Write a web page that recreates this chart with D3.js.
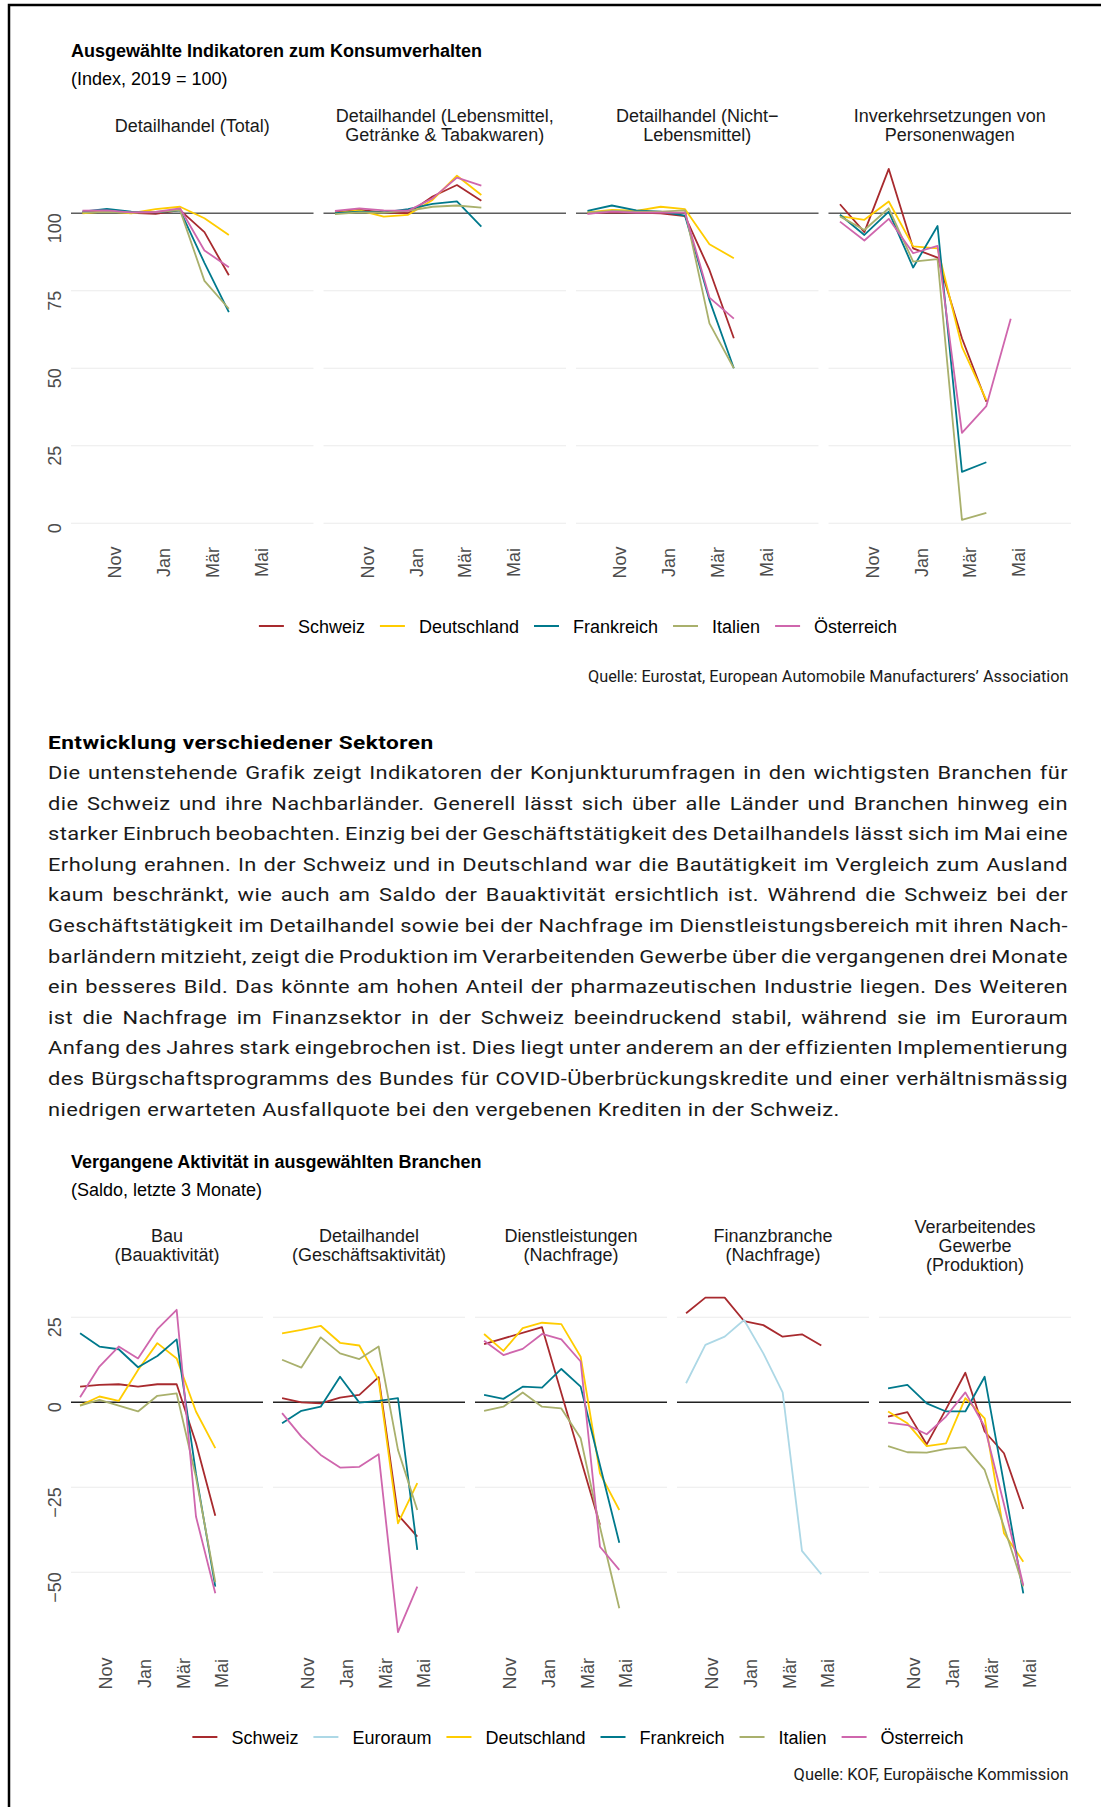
<!DOCTYPE html>
<html><head><meta charset="utf-8">
<script src="https://cdn.jsdelivr.net/npm/d3@7"></script>
<style>body{margin:0;background:#fff;} svg{display:block;}</style>
</head><body>
<svg id="c" width="1101" height="1807"></svg>
<script>
// ---------- DATA ----------
const monthNames = ["Okt","Nov","Dez","Jan","Feb","Mär","Apr","Mai"]; // Okt 2019 .. Mai 2020
const monthIndex = [0,1,2,3,4,5,6,7];
const tickMonths = [1,3,5,7];
const tickLabels = ["Nov","Jan","Mär","Mai"];

const countryNames = ["Schweiz","Euroraum","Deutschland","Frankreich","Italien","Österreich"];
const countryColors = ["#a82a2e","#add8e6","#ffcc00","#00798c","#a9b06c","#cf66ad"];

// Chart 1: Index, 2019 = 100
const topTitles = [["Detailhandel (Total)"],["Detailhandel (Lebensmittel,","Getränke & Tabakwaren)"],["Detailhandel (Nicht\u2212","Lebensmittel)"],["Inverkehrsetzungen von","Personenwagen"]];
const topLegend = ["Schweiz","Deutschland","Frankreich","Italien","Österreich"];
const topYTicks = [0,25,50,75,100];

const detTotal = {
  "Schweiz":     [100.3,100.6,100.1, 99.8,101.0, 93.9, 80.0,null],
  "Deutschland": [100.0,100.6,100.0,101.3,102.1, 98.4, 93.0,null],
  "Frankreich":  [100.5,101.4,100.5,100.3,100.9, 84.0, 68.1,null],
  "Italien":     [100.2,100.4,100.2,100.4,101.0, 78.2, 69.2,null],
  "Österreich":  [100.8,100.9,100.3,100.4,101.6, 88.0, 82.6,null]
};
const detFood = {
  "Schweiz":     [100.3,101.1,100.3,100.0,105.4,109.1,104.0,null],
  "Deutschland": [100.0,100.9, 98.9, 99.5,104.3,112.1,105.9,null],
  "Frankreich":  [100.0,100.5,100.3,101.3,103.0,103.8, 95.7,null],
  "Italien":     [ 99.7,100.3,100.2,100.8,102.1,102.5,101.8,null],
  "Österreich":  [100.8,101.6,100.9,100.8,104.8,111.5,108.9,null]
};
const detNonFood = {
  "Schweiz":     [100.0,100.3,100.2,100.0, 99.1, 81.7, 59.7,null],
  "Deutschland": [100.3,101.1,100.8,102.1,101.3, 90.0, 85.5,null],
  "Frankreich":  [100.8,102.5,100.9,100.5, 99.2, 72.0, 50.0,null],
  "Italien":     [100.2,100.8,100.5,100.5,100.9, 64.5, 50.0,null],
  "Österreich":  [ 99.8,100.5,100.2,100.2,100.2, 72.8, 66.0,null]
};
const cars = {
  "Schweiz":     [102.9, 93.9,114.3, 88.7, 85.7, 59.7, 39.2,null],
  "Deutschland": [ 99.1, 97.9,103.8, 89.3, 88.7, 56.9, 39.7,null],
  "Frankreich":  [ 99.5, 93.0,100.5, 82.5, 95.9, 16.6, 19.7,null],
  "Italien":     [ 99.0, 94.6,101.6, 84.4, 85.2,  1.1,  3.4,null],
  "Österreich":  [ 97.3, 91.2, 98.2, 87.1, 89.5, 29.2, 37.8,66.0]
};

// Chart 2: Saldo, letzte 3 Monate
const botTitles = [["Bau","(Bauaktivität)"],["Detailhandel","(Geschäftsaktivität)"],["Dienstleistungen","(Nachfrage)"],["Finanzbranche","(Nachfrage)"],["Verarbeitendes","Gewerbe","(Produktion)"]];
const botLegend = ["Schweiz","Euroraum","Deutschland","Frankreich","Italien","Österreich"];
const botYTicks = [-50,-25,0,25];

const bau = {
  "Schweiz":     [ 4.6,  5.1,  5.3,  4.6,  5.3,  5.3,-12.0,-33.4],
  "Deutschland": [-1.0,  1.7,  0.4,  9.5, 17.4, 12.9, -2.7,-13.5],
  "Frankreich":  [20.3, 16.4, 15.6, 10.3, 13.6, 18.5,-21.0,-54.2],
  "Italien":     [-1.0,  0.7, -1.0, -2.7,  1.9,  2.6,-22.0,-52.9],
  "Österreich":  [ 1.5, 10.5, 16.4, 12.9, 21.5, 27.2,-33.6,-56.2]
};
const detail = {
  "Schweiz":     [ 1.2,  0.0, -0.3,  1.4,  2.2,  7.4,-33.1,-39.5],
  "Deutschland": [20.3, 21.3, 22.5, 17.5, 16.7,  6.5,-35.6,-23.8],
  "Frankreich":  [-6.2, -2.5, -1.3,  7.5, -0.1,  0.4,  1.2,-43.4],
  "Italien":     [12.5, 10.2, 19.1, 14.4, 12.7, 16.4,-14.0,-31.7],
  "Österreich":  [-3.2,-10.1,-15.5,-19.2,-19.0,-15.3,-67.6,-54.2]
};
const dienst = {
  "Schweiz":     [17.1, null, null, 22.1, null, null,-36.0, null],
  "Deutschland": [20.1, 15.1, 21.8, 23.4, 23.0, 13.4,-20.9,-31.7],
  "Frankreich":  [ 2.2,  1.0,  4.6,  4.3,  9.8,  4.6,-18.5,-41.3],
  "Italien":     [-2.5, -1.3,  2.9, -1.3, -1.8,-10.6,-36.7,-60.6],
  "Österreich":  [18.1, 13.9, 15.7, 20.1, 18.5, 12.0,-42.5,-49.3]
};
const finanz = {
  "Schweiz":     [26.2, 30.8, 30.8, 23.9, 22.7, 19.3, 20.0, 16.7],
  "Euroraum":    [ 5.6, 16.9, 19.3, 24.2, 14.4,  2.9,-43.7,-50.6]
};
const verarb = {
  "Schweiz":     [-4.2, -2.9,-12.4, -2.0,  8.7, -8.6,-15.0,-31.4],
  "Deutschland": [-2.7, -6.2,-12.9,-12.1,  1.2, -4.7,-38.5,-46.9],
  "Frankreich":  [ 4.1,  5.1, -0.3, -2.7, -2.7,  7.5,-24.0,-56.2],
  "Italien":     [-12.9,-14.7,-14.8,-13.7,-13.2,-19.9,-36.6,-54.2],
  "Österreich":  [-6.0, -6.7, -9.4, -4.2,  2.9, -7.2,-30.0,-53.8]
};

const paragraphHeading = "Entwicklung verschiedener Sektoren";
const paragraphLines = [
"Die untenstehende Grafik zeigt Indikatoren der Konjunkturumfragen in den wichtigsten Branchen für",
"die Schweiz und ihre Nachbarländer. Generell lässt sich über alle Länder und Branchen hinweg ein",
"starker Einbruch beobachten. Einzig bei der Geschäftstätigkeit des Detailhandels lässt sich im Mai eine",
"Erholung erahnen. In der Schweiz und in Deutschland war die Bautätigkeit im Vergleich zum Ausland",
"kaum beschränkt, wie auch am Saldo der Bauaktivität ersichtlich ist. Während die Schweiz bei der",
"Geschäftstätigkeit im Detailhandel sowie bei der Nachfrage im Dienstleistungsbereich mit ihren Nach-",
"barländern mitzieht, zeigt die Produktion im Verarbeitenden Gewerbe über die vergangenen drei Monate",
"ein besseres Bild. Das könnte am hohen Anteil der pharmazeutischen Industrie liegen. Des Weiteren",
"ist die Nachfrage im Finanzsektor in der Schweiz beeindruckend stabil, während sie im Euroraum",
"Anfang des Jahres stark eingebrochen ist. Dies liegt unter anderem an der effizienten Implementierung",
"des Bürgschaftsprogramms des Bundes für COVID-Überbrückungskredite und einer verhältnismässig",
"niedrigen erwarteten Ausfallquote bei den vergebenen Krediten in der Schweiz."
];

// ---------- DRAWING ----------
const svg = d3.select("#c");
svg.append("rect").attr("width",1101).attr("height",1807).attr("fill","#fff");
const FONT = "'Liberation Sans', Arial, Helvetica, sans-serif";
const DIN = "Roboto, 'DejaVu Sans', sans-serif";
const colorOf = n => countryColors[countryNames.indexOf(n)];
const X_DOMAIN = [-0.47, 9.47];
const TICK_SHIFT = 0.33;

// frame
svg.append("path").attr("d","M9,1807V5H1101").attr("fill","none").attr("stroke","#000").attr("stroke-width",2.5);

function drawChart(cfg){
  const g = svg.append("g").attr("font-family",FONT);
  g.append("text").attr("x",71).attr("y",cfg.titleY).attr("font-size",18).attr("font-weight","bold").attr("fill","#000").text(cfg.title);
  g.append("text").attr("x",71).attr("y",cfg.titleY+28).attr("font-size",18).attr("fill","#000").text(cfg.subtitle);
  const y = d3.scaleLinear().domain(cfg.yDomain).range(cfg.yRange);
  cfg.panels.forEach((p,i)=>{
    const x0 = 71 + i*(cfg.pw+10);
    const x = d3.scaleLinear().domain(X_DOMAIN).range([x0, x0+cfg.pw]);
    const pg = g.append("g");
    pg.selectAll("line.grid").data(cfg.yTicks).join("line").attr("class","grid")
      .attr("x1",x0).attr("x2",x0+cfg.pw).attr("y1",d=>y(d)).attr("y2",d=>y(d))
      .attr("stroke","#ebebeb").attr("stroke-width",1.1);
    pg.append("line").attr("x1",x0).attr("x2",x0+cfg.pw).attr("y1",y(cfg.ref)).attr("y2",y(cfg.ref))
      .attr("stroke",cfg.refColor).attr("stroke-width",1.6);
    const line = d3.line().x(d=>x(d.m)).y(d=>y(d.v));
    countryNames.forEach(cn=>{
      if(!p.data[cn]) return;
      const pts = p.data[cn].map((v,k)=>({m:monthIndex[k],v})).filter(d=>d.v!=null);
      pg.append("path").attr("d",line(pts)).attr("fill","none").attr("stroke",colorOf(cn))
        .attr("stroke-width",1.8).attr("stroke-linejoin","round");
    });
    tickMonths.forEach((m,k)=>{
      const tx = x(m+TICK_SHIFT)+6.5;
      pg.append("text").attr("x",tx).attr("y",cfg.xLabY)
        .attr("transform",`rotate(-90,${tx},${cfg.xLabY})`).attr("text-anchor","middle")
        .attr("font-size",18).attr("fill","#4d4d4d").text(tickLabels[k]);
    });
    const n = p.title.length;
    p.title.forEach((t,k)=>{
      pg.append("text").attr("x",x0+cfg.pw/2).attr("y",cfg.stripMid + (k-(n-1)/2)*19 + 6.5)
        .attr("text-anchor","middle").attr("font-size",18).attr("fill","#1a1a1a").text(t);
    });
  });
  cfg.yTicks.forEach(v=>{
    const ty = y(v);
    g.append("text").attr("x",61.5).attr("y",ty).attr("transform",`rotate(-90,61.5,${ty})`)
      .attr("text-anchor","end").attr("font-size",18).attr("fill","#4d4d4d")
      .text(v<0 ? "\u2212"+Math.abs(v) : String(v));
  });
  const lg = g.append("g");
  const items = cfg.legend.map(n=>{
    const t = lg.append("text").attr("font-size",18).attr("fill","#000").attr("y",cfg.legY+6.5).text(n);
    return {n,t,w:t.node().getComputedTextLength()};
  });
  const total = d3.sum(items,d=>25+14+d.w) + 15*(items.length-1);
  let cx = 578 - total/2;
  items.forEach(it=>{
    lg.append("line").attr("x1",cx).attr("x2",cx+25).attr("y1",cfg.legY).attr("y2",cfg.legY)
      .attr("stroke",colorOf(it.n)).attr("stroke-width",2);
    it.t.attr("x",cx+39);
    cx += 39 + it.w + 15;
  });
  svg.append("text").attr("x",1068.6).attr("y",cfg.srcY).attr("text-anchor","end")
    .attr("font-family",DIN).attr("font-size",16.5).attr("fill","#1a1a1a")
    .attr("textLength",cfg.srcW).attr("lengthAdjust","spacingAndGlyphs").text(cfg.source);
}

drawChart({
  title:"Ausgewählte Indikatoren zum Konsumverhalten", subtitle:"(Index, 2019 = 100)", titleY:57,
  panels:[{title:topTitles[0],data:detTotal},{title:topTitles[1],data:detFood},{title:topTitles[2],data:detNonFood},{title:topTitles[3],data:cars}],
  pw:242.5, yDomain:[-5.38,120.4], yRange:[540,150], yTicks:topYTicks, ref:100, refColor:"#5e5e5e",
  xLabY:562.5, stripMid:125, legend:topLegend, legY:626,
  source:"Quelle: Eurostat, European Automobile Manufacturers\u2019 Association", srcY:682, srcW:480.6
});

drawChart({
  title:"Vergangene Aktivität in ausgewählten Branchen", subtitle:"(Saldo, letzte 3 Monate)", titleY:1168,
  panels:[{title:botTitles[0],data:bau},{title:botTitles[1],data:detail},{title:botTitles[2],data:dienst},{title:botTitles[3],data:finanz},{title:botTitles[4],data:verarb}],
  pw:192, yDomain:[-71.4,34.5], yRange:[1645,1285], yTicks:botYTicks, ref:0, refColor:"#222",
  xLabY:1673.5, stripMid:1245.2, legend:botLegend, legY:1737,
  source:"Quelle: KOF, Europäische Kommission", srcY:1780, srcW:275
});

// paragraph: glyphs widened horizontally (DIN-like) with light tracking, justified by word spacing
const LS = 0.35;
const head = svg.append("text").attr("font-family",DIN).attr("font-size",19).attr("font-weight","bold")
  .attr("fill","#000").attr("letter-spacing",LS).attr("x",0).attr("y",0).text(paragraphHeading);
const hw = head.node().getComputedTextLength();
head.attr("transform",`translate(48,749) scale(${386/hw},1)`);

const pg = svg.append("g").attr("font-family",DIN).attr("font-size",19).attr("fill","#1a1a1a").attr("letter-spacing",LS);
const lines = paragraphLines.map((ln,i)=>pg.append("text").attr("x",0).attr("y",779+i*30.6).text(ln));
const lastW = lines[11].node().getComputedTextLength();
const sx = 792/lastW;
pg.attr("transform",`translate(48,0) scale(${sx},1)`);
lines.forEach((t,i)=>{
  if(i===11) return;
  const w = t.node().getComputedTextLength();
  const sp = (paragraphLines[i].match(/ /g)||[]).length;
  t.attr("word-spacing",(1020/sx-w)/sp);
});
</script>
</body></html>
